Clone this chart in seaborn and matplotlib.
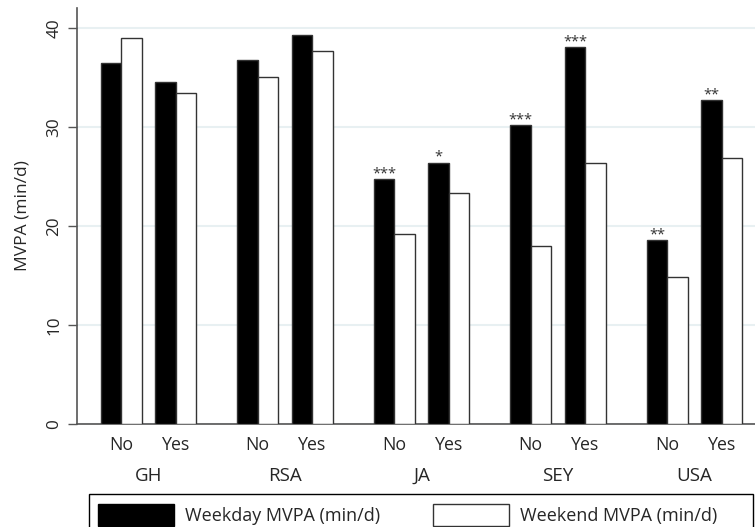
import numpy as np
import pandas as pd
import matplotlib
matplotlib.use('Agg')
import matplotlib.pyplot as plt
import matplotlib.transforms as mtransforms
from matplotlib.patches import Patch, Rectangle
import seaborn as sns

sns.set_theme(style="white")
plt.rcParams['font.family'] = ['Open Sans', 'DejaVu Sans']

# data
countries = ['GH', 'RSA', 'JA', 'SEY', 'USA']
statuses = ['No', 'Yes']
weekday = [36.5, 34.5, 36.8, 39.3, 24.7, 26.4, 30.2, 38.1, 18.6, 32.7]
weekend = [39.0, 33.4, 35.1, 37.7, 19.2, 23.3, 18.0, 26.4, 14.8, 26.9]
stars = ['', '', '', '', '***', '*', '***', '***', '**', '**']
measures = ['Weekday MVPA (min/d)', 'Weekend MVPA (min/d)']

GROUP_STEP = 2.5  # distance between country blocks, in units of pair spacing
BAR_W = 0.751

rows = []
for i, (wd, we) in enumerate(zip(weekday, weekend)):
    g, s = divmod(i, 2)
    pos = g * GROUP_STEP + s
    rows.append({'pos': pos, 'country': countries[g], 'status': statuses[s],
                 'measure': measures[0], 'value': wd})
    rows.append({'pos': pos, 'country': countries[g], 'status': statuses[s],
                 'measure': measures[1], 'value': we})
df = pd.DataFrame(rows)

W, H = 755, 527
fig = plt.figure(figsize=(W / 100, H / 100), dpi=100)
ax = fig.add_axes([77 / W, (H - 423.7) / H, 678 / W, 415.4 / H])

sns.barplot(data=df, x='pos', y='value', hue='measure', hue_order=measures,
            palette={measures[0]: 'black', measures[1]: 'white'},
            native_scale=True, width=BAR_W, gap=0, dodge=True,
            edgecolor='#333333', linewidth=1.0, errorbar=None,
            legend=False, ax=ax, zorder=3)

ax.set_xlim(-0.81, 11.61)
ax.set_ylim(0, 42.0)

# grid + spines
ax.set_yticks([0, 10, 20, 30, 40])
ax.yaxis.grid(True, color='#e8f0f2', linewidth=1.5, zorder=0)
ax.xaxis.grid(False)
for side in ['top', 'right']:
    ax.spines[side].set_visible(False)
for side in ['left', 'bottom']:
    ax.spines[side].set_color('#555555')
    ax.spines[side].set_linewidth(1.2)

ax.tick_params(axis='y', length=6.3, width=1.0, color='#555555', pad=4.3,
               labelsize=12.3, left=True)
for lab in ax.get_yticklabels():
    lab.set_rotation(90)
    lab.set_va('center')

pair_pos = sorted(df['pos'].unique())
ax.set_xticks(pair_pos)
ax.set_xticklabels(statuses * len(countries))
ax.tick_params(axis='x', length=0, pad=9, labelsize=12.8)

ax.set_xlabel('')
ax.set_ylabel('MVPA (min/d)', fontsize=12.5)
ax.yaxis.set_label_coords(-0.068, 0.5)

# country labels under the No/Yes labels
trans = mtransforms.blended_transform_factory(ax.transData, ax.transAxes)
for g, c in enumerate(countries):
    ax.text(g * GROUP_STEP + 0.5, -0.125, c, transform=trans,
            ha='center', va='center', fontsize=13.5)

# significance stars above weekday bars
half = BAR_W / 4
for i, st in enumerate(stars):
    if st:
        ax.annotate(st, (pair_pos[i] - half, weekday[i]), xytext=(0, 1.2),
                    textcoords='offset points', ha='center', va='baseline',
                    fontsize=10.5, color='#333333')

# legend box (runs off the bottom edge, as in the source)
fig.patches.append(Rectangle((89 / W, -0.05), 664 / W, (H - 494) / H + 0.05,
                             transform=fig.transFigure, facecolor='white',
                             edgecolor='black', linewidth=1.0, zorder=1))
handles = [Patch(facecolor='black', edgecolor='black'),
           Patch(facecolor='white', edgecolor='#333333')]
fs = 13
fig.legend(handles, measures, loc='upper left', ncol=2,
           bbox_to_anchor=(97.7 / W, 1 - 504 / H),
           frameon=False, borderaxespad=0, borderpad=0, fontsize=fs,
           handlelength=76 / (fs * 1.389), handleheight=1.5,
           handletextpad=11.7 / (fs * 1.389),
           columnspacing=52 / (fs * 1.389))

fig.savefig('out.png', dpi=100)
